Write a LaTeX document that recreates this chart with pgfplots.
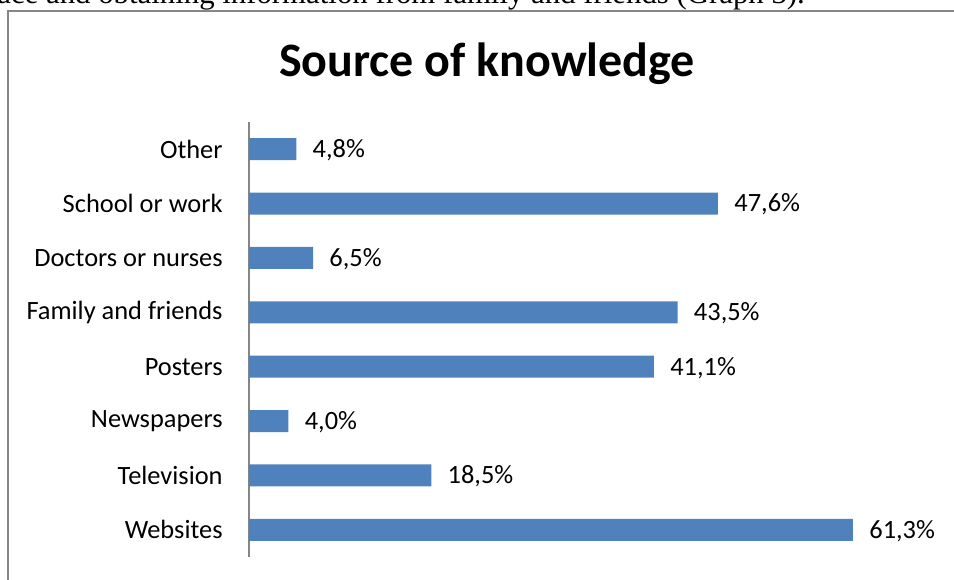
\documentclass[border=0pt]{standalone}
\usepackage{pgfplots}
\pgfplotsset{compat=1.18}
\usepackage{fontspec}
\setmainfont{Carlito}
\newfontfamily\serif{Liberation Serif}
\definecolor{barblue}{HTML}{4F81BD}
\definecolor{axgray}{HTML}{868686}
\begin{document}
\begin{tikzpicture}
\useasboundingbox (0,0) rectangle (477pt,289.5pt);
\node[anchor=base west, inner sep=0pt] at (-1.5pt,287.5pt) {\serif\fontsize{15.4}{18}\selectfont ace and obtaining information from family and friends (Graph 3).};
\draw[axgray, line width=0.75pt] (4pt,-5pt) -- (4pt,284pt) -- (490pt,284pt);
\node[font=\bfseries\fontsize{24}{28}\selectfont] at (243.5pt,257.5pt) {Source of knowledge};
\begin{axis}[at={(124.5pt,11pt)}, anchor=south west, scale only axis,
  width=344.85pt, height=217.5pt,
  xbar, xmin=0, xmax=70, ymin=-0.5, ymax=7.5, bar width=11pt,
  axis x line=none, axis y line*=left,
  y axis line style={axgray, line width=0.75pt},
  ytick={0,...,7},
  yticklabels={Websites\hspace{3pt}, Television, Newspapers, Posters, Family and friends, Doctors or nurses, School or work, Other},
  major tick length=0pt,
  yticklabel style={font=\fontsize{13.2}{15}\selectfont, inner sep=0pt, xshift=-13pt, anchor=east},
  point meta=x,
  nodes near coords={\pgfmathprintnumber[fixed, fixed zerofill, precision=1, use comma, assume math mode=true]{\pgfplotspointmeta}\%},
  nodes near coords style={font=\fontsize{13.2}{15}\selectfont, anchor=west, inner sep=0pt, xshift=8pt, yshift=-0.5pt},
]
\addplot[fill=barblue, draw=none] coordinates {(61.3,0) (18.5,1) (4.0,2) (41.1,3) (43.5,4) (6.5,5) (47.6,6) (4.8,7)};
\end{axis}
\end{tikzpicture}
\end{document}
